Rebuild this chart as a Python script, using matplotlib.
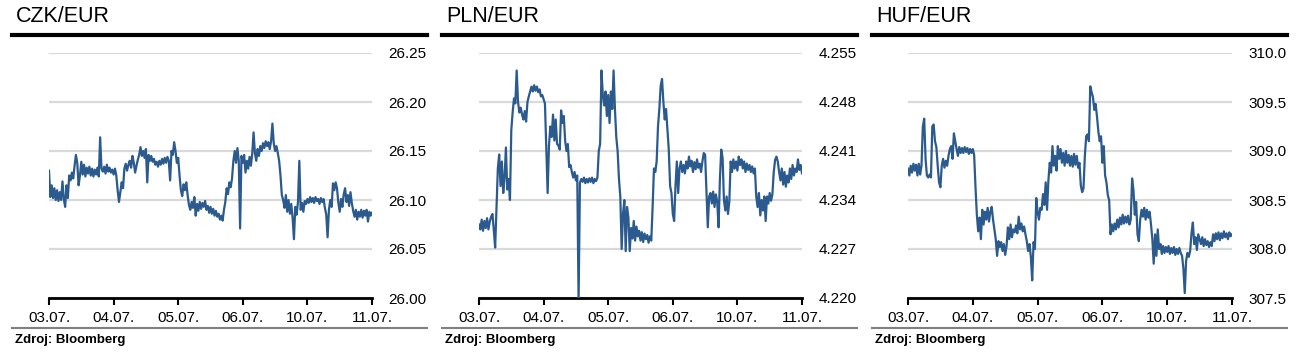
import numpy as np
import matplotlib.pyplot as plt
from matplotlib.lines import Line2D

plt.rcParams['font.family'] = ['Liberation Sans', 'DejaVu Sans']

dates = ['03.07.', '04.07.', '05.07.', '06.07.', '10.07.', '11.07.']

# values, 48 readings per trading day
czk = [26.130, 26.103, 26.115, 26.102, 26.112, 26.100, 26.110, 26.099, 26.108, 26.100, 26.119, 26.101,
       26.093, 26.115, 26.102, 26.125, 26.120, 26.128, 26.122, 26.135, 26.146, 26.138, 26.115, 26.125,
       26.139, 26.126, 26.136, 26.124, 26.133, 26.127, 26.134, 26.125, 26.132, 26.124, 26.131, 26.126,
       26.133, 26.124, 26.164, 26.132, 26.129, 26.134, 26.127, 26.136, 26.129, 26.133, 26.128, 26.131,
       # 04.07.
       26.126, 26.132, 26.125, 26.110, 26.098, 26.108, 26.118, 26.112, 26.132, 26.137, 26.130, 26.136,
       26.140, 26.133, 26.145, 26.138, 26.128, 26.135, 26.141, 26.146, 26.154, 26.145, 26.150, 26.143,
       26.152, 26.118, 26.146, 26.140, 26.145, 26.139, 26.142, 26.136, 26.139, 26.134, 26.140, 26.136,
       26.142, 26.137, 26.143, 26.138, 26.144, 26.140, 26.120, 26.150, 26.146, 26.159, 26.150, 26.138,
       # 05.07.
       26.143, 26.125, 26.110, 26.104, 26.116, 26.110, 26.118, 26.105, 26.095, 26.090, 26.098, 26.092,
       26.103, 26.084, 26.096, 26.089, 26.098, 26.091, 26.097, 26.093, 26.099, 26.090, 26.094, 26.087,
       26.093, 26.086, 26.091, 26.084, 26.089, 26.083, 26.086, 26.080, 26.084, 26.079, 26.090, 26.098,
       26.112, 26.106, 26.118, 26.113, 26.122, 26.140, 26.150, 26.138, 26.153, 26.140, 26.071, 26.145,
       # 06.07.
       26.138, 26.146, 26.128, 26.140, 26.132, 26.144, 26.135, 26.147, 26.169, 26.148, 26.140, 26.152,
       26.145, 26.155, 26.150, 26.158, 26.153, 26.160, 26.155, 26.159, 26.152, 26.160, 26.178, 26.158,
       26.150, 26.155, 26.148, 26.140, 26.125, 26.105, 26.100, 26.092, 26.105, 26.088, 26.100, 26.086,
       26.096, 26.082, 26.060, 26.093, 26.085, 26.098, 26.140, 26.090, 26.097, 26.088, 26.099, 26.096,
       # 10.07.
       26.101, 26.097, 26.103, 26.098, 26.102, 26.097, 26.103, 26.099, 26.101, 26.096, 26.102, 26.098,
       26.101, 26.092, 26.085, 26.062, 26.090, 26.100, 26.093, 26.117, 26.110, 26.118, 26.112, 26.097,
       26.088, 26.101, 26.093, 26.106, 26.112, 26.098, 26.105, 26.094, 26.108, 26.097, 26.089, 26.083,
       26.090, 26.080, 26.088, 26.083, 26.090, 26.082, 26.089, 26.084, 26.090, 26.078, 26.088, 26.084,
       26.087]

pln = [4.2305, 4.2298, 4.2312, 4.2296, 4.2310, 4.2300, 4.2314, 4.2298, 4.2309, 4.2316, 4.2320, 4.2297,
       4.2272, 4.2330, 4.2385, 4.2405, 4.2360, 4.2395, 4.2350, 4.2372, 4.2415, 4.2355, 4.2370, 4.2340,
       4.2440, 4.2465, 4.2485, 4.2478, 4.2525, 4.2480, 4.2465, 4.2472, 4.2462, 4.2455, 4.2467, 4.2452,
       4.2480, 4.2488, 4.2495, 4.2502, 4.2495, 4.2504, 4.2496, 4.2502, 4.2494, 4.2498, 4.2488, 4.2490,
       # 04.07.
       4.2484, 4.2478, 4.2415, 4.2350, 4.2418, 4.2445, 4.2430, 4.2462, 4.2425, 4.2455, 4.2420, 4.2418,
       4.2412, 4.2468, 4.2450, 4.2460, 4.2425, 4.2410, 4.2420, 4.2387, 4.2390, 4.2380, 4.2372, 4.2380,
       4.2368, 4.2375, 4.2195, 4.2365, 4.2370, 4.2366, 4.2372, 4.2364, 4.2370, 4.2365, 4.2371, 4.2366,
       4.2372, 4.2364, 4.2370, 4.2367, 4.2372, 4.2410, 4.2420, 4.2525, 4.2490, 4.2475, 4.2495, 4.2460,
       # 05.07.
       4.2490, 4.2450, 4.2495, 4.2470, 4.2525, 4.2470, 4.2430, 4.2410, 4.2370, 4.2345, 4.2270, 4.2320,
       4.2340, 4.2267, 4.2330, 4.2315, 4.2267, 4.2300, 4.2285, 4.2310, 4.2282, 4.2302, 4.2288, 4.2296,
       4.2282, 4.2294, 4.2280, 4.2292, 4.2284, 4.2290, 4.2279, 4.2288, 4.2282, 4.2330, 4.2385, 4.2380,
       4.2395, 4.2445, 4.2470, 4.2503, 4.2513, 4.2480, 4.2455, 4.2470, 4.2440, 4.2412, 4.2360, 4.2350,
       # 06.07.
       4.2320, 4.2310, 4.2360, 4.2395, 4.2350, 4.2385, 4.2395, 4.2380, 4.2390, 4.2378, 4.2395, 4.2385,
       4.2402, 4.2388, 4.2396, 4.2380, 4.2394, 4.2384, 4.2398, 4.2386, 4.2392, 4.2380, 4.2395, 4.2407,
       4.2405, 4.2355, 4.2301, 4.2345, 4.2350, 4.2335, 4.2352, 4.2330, 4.2348, 4.2338, 4.2301, 4.2370,
       4.2412, 4.2400, 4.2340, 4.2325, 4.2345, 4.2320, 4.2338, 4.2395, 4.2380, 4.2398, 4.2385, 4.2395,
       # 10.07.
       4.2382, 4.2402, 4.2390, 4.2398, 4.2385, 4.2395, 4.2380, 4.2392, 4.2383, 4.2390, 4.2380, 4.2388,
       4.2378, 4.2385, 4.2345, 4.2330, 4.2350, 4.2318, 4.2340, 4.2325, 4.2345, 4.2310, 4.2345, 4.2335,
       4.2350, 4.2339, 4.2348, 4.2380, 4.2397, 4.2402, 4.2395, 4.2380, 4.2368, 4.2385, 4.2362, 4.2380,
       4.2359, 4.2375, 4.2365, 4.2385, 4.2370, 4.2390, 4.2375, 4.2385, 4.2380, 4.2398, 4.2383, 4.2390,
       4.2378]

huf = [308.82, 308.75, 308.85, 308.78, 308.87, 308.80, 308.86, 308.75, 308.87, 308.76, 308.85, 309.25,
       309.33, 308.92, 308.75, 308.73, 308.76, 308.73, 309.25, 309.27, 309.10, 309.04, 308.85, 308.68,
       308.63, 308.85, 308.92, 308.83, 308.90, 308.85, 308.95, 309.02, 309.05, 308.92, 309.18, 309.10,
       309.02, 308.95, 309.04, 308.98, 309.03, 308.98, 309.04, 308.99, 309.03, 308.97, 309.02, 308.98,
       # 04.07.
       309.02, 308.96, 308.63, 308.35, 308.18, 308.32, 308.10, 308.40, 308.25, 308.38, 308.30, 308.42,
       308.28, 308.38, 308.43, 308.30, 308.20, 308.10, 307.93, 308.08, 308.02, 308.07, 307.98, 308.05,
       307.94, 308.03, 308.22, 308.10, 308.25, 308.12, 308.20, 308.17, 308.24, 308.16, 308.33, 308.20,
       308.26, 308.18, 308.23, 308.15, 308.08, 307.98, 308.05, 307.92, 307.68, 308.07, 308.00, 308.52,
       # 05.07.
       308.38, 308.30, 308.42, 308.40, 308.56, 308.45, 308.68, 308.40, 308.70, 308.88, 308.78, 309.05,
       308.85, 308.95, 308.80, 309.05, 308.92, 309.02, 308.88, 308.98, 308.85, 309.00, 308.88, 308.96,
       308.85, 308.95, 308.84, 308.97, 308.86, 308.95, 308.83, 308.88, 308.65, 308.58, 308.62, 308.95,
       309.15, 309.17, 309.10, 309.66, 309.60, 309.55, 309.42, 309.48, 309.35, 309.20, 309.10, 309.15,
       # 06.07.
       308.88, 309.05, 308.75, 308.68, 308.55, 308.50, 308.15, 308.25, 308.18, 308.26, 308.20, 308.30,
       308.22, 308.32, 308.25, 308.35, 308.26, 308.33, 308.27, 308.34, 308.25, 308.30, 308.72, 308.60,
       308.35, 308.48, 308.15, 308.08, 308.30, 308.40, 308.33, 308.42, 308.30, 308.40, 308.32, 308.38,
       308.25, 308.10, 307.85, 308.15, 307.93, 308.20, 308.00, 308.05, 307.95, 308.03, 307.96, 308.02,
       # 10.07.
       307.97, 308.03, 307.95, 308.01, 307.96, 308.02, 307.94, 308.00, 307.95, 308.01, 307.96, 307.93,
       307.80, 307.55, 307.88, 307.96, 307.92, 307.98, 308.16, 308.27, 308.05, 308.12, 307.99, 308.15,
       308.10, 308.05, 308.12, 308.03, 308.10, 308.04, 308.08, 308.02, 308.07, 308.03, 308.15, 308.08,
       308.16, 308.10, 308.17, 308.09, 308.16, 308.11, 308.18, 308.12, 308.16, 308.10, 308.17, 308.13,
       308.15]

czk_ticks = [26.00, 26.05, 26.10, 26.15, 26.20, 26.25]
pln_ticks = [4.220, 4.227, 4.234, 4.241, 4.248, 4.255]
huf_ticks = [307.5, 308.0, 308.5, 309.0, 309.5, 310.0]

panels = [('CZK/EUR', czk, czk_ticks, '%.2f'),
          ('PLN/EUR', pln, pln_ticks, '%.3f'),
          ('HUF/EUR', huf, huf_ticks, '%.1f')]

W, H = 1302, 360
fig = plt.figure(figsize=(W / 100, H / 100), dpi=100)

lefts = [49, 479, 908]
widths = [323, 323, 324]

for i, (title, vals, ticks, fmt) in enumerate(panels):
    off = 430 * i
    ax = fig.add_axes([lefts[i] / W, 62 / H, widths[i] / W, 245 / H])
    x = np.arange(len(vals)) / 48
    ax.plot(x, vals, color='#2B5A8E', lw=1.6, zorder=3)
    ax.set_xlim(0, 5)
    ax.set_ylim(ticks[0], ticks[-1])
    ax.set_yticks(ticks)
    ax.set_yticklabels([fmt % t for t in ticks])
    ax.set_xticks(range(6))
    ax.set_xticklabels(dates)
    ax.yaxis.tick_right()
    ax.tick_params(axis='y', length=0, pad=12, labelsize=11)
    ax.tick_params(axis='x', length=5, width=1.5, color='black', pad=4, labelsize=11)
    ax.grid(axis='y', color='#D9D9D9', lw=1.6)
    ax.set_axisbelow(True)
    for s in ['top', 'left', 'right']:
        ax.spines[s].set_visible(False)
    ax.spines['bottom'].set_linewidth(2)
    ax.spines['bottom'].set_color('black')

    fig.add_artist(Line2D([(off + 12) / W, (off + 427) / W], [1 - 34.5 / H] * 2, color='black', lw=3))
    fig.add_artist(Line2D([(off + 12) / W, (off + 427) / W], [1 - 328 / H] * 2, color='#808080', lw=1.5))
    fig.text((off + 16) / W, 1 - 16 / H, title, fontsize=15.5, va='center')
    fig.text((off + 15) / W, 1 - 340 / H, 'Zdroj: Bloomberg', fontsize=9.5, fontweight='bold', va='center')

fig.savefig('out.png', dpi=100)
